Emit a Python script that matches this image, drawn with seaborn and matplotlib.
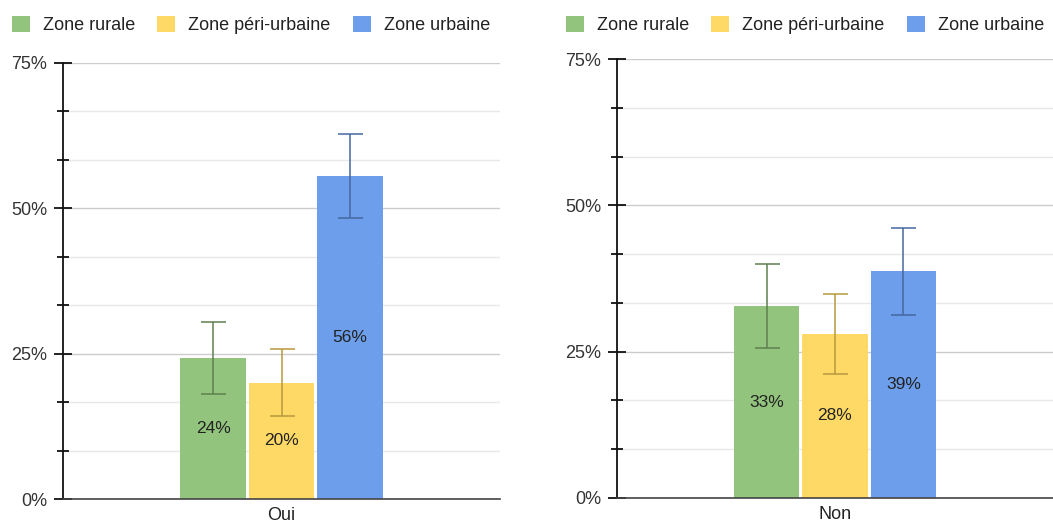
import pandas as pd
import seaborn as sns
from matplotlib import pyplot as plt
from matplotlib.patches import Patch
from matplotlib.ticker import MultipleLocator, FixedLocator

zones = ['Zone rurale', 'Zone péri-urbaine', 'Zone urbaine']
answers = ['Oui', 'Non']

oui_values = [24.2, 20.0, 55.6]
oui_low = [18.1, 14.2, 48.4]
oui_high = [30.5, 25.8, 62.8]

non_values = [32.8, 28.1, 38.8]
non_low = [25.7, 21.2, 31.3]
non_high = [39.9, 34.9, 46.1]

colors = ['#93c47d', '#ffd966', '#6d9eeb']
err_colors = ['#5f7f4f', '#b8983f', '#45689f']

sns.set_style("white")
plt.rcParams['font.family'] = ['Liberation Sans', 'DejaVu Sans']

fig = plt.figure(figsize=(10.53, 5.24), dpi=100)
ax1 = fig.add_axes([63 / 1053, 25 / 524, 437 / 1053, 436 / 524])
ax2 = fig.add_axes([617 / 1053, 26 / 524, 436 / 1053, 439 / 524])

panels = [
    (ax1, 'Oui', oui_values, oui_low, oui_high, 12),
    (ax2, 'Non', non_values, non_low, non_high, 566),
]

for ax, answer, vals, lows, highs, leg_x in panels:
    df = pd.DataFrame({'answer': [answer] * 3, 'zone': zones, 'value': vals})
    sns.barplot(data=df, x='answer', y='value', hue='zone', hue_order=zones,
                palette=colors, saturation=1, width=0.47, gap=0.04,
                linewidth=0, legend=False, errorbar=None, ax=ax)

    for cont, v, lo, hi, ec in zip(ax.containers, vals, lows, highs, err_colors):
        bar = cont.patches[0]
        xc = bar.get_x() + bar.get_width() / 2
        ax.errorbar([xc], [v], yerr=[[v - lo], [hi - v]], fmt='none',
                    ecolor=ec, elinewidth=1.1, capsize=9, capthick=1.1, zorder=4)
        ax.bar_label(cont, labels=[f'{v:.0f}%'], label_type='center',
                     fontsize=12.5, color='#222222')

    ax.set_xlim(-0.5, 0.5)
    ax.set_ylim(0, 75)
    ax.yaxis.set_major_locator(MultipleLocator(25))
    ax.yaxis.set_minor_locator(FixedLocator([25 / 3 * i for i in range(10) if i % 3]))
    ax.set_yticklabels([f'{t:.0f}%' for t in ax.get_yticks()])
    ax.grid(which='major', axis='y', color='#cccccc', linewidth=1)
    ax.grid(which='minor', axis='y', color='#e8e8e8', linewidth=1)
    ax.set_axisbelow(True)

    ax.tick_params(axis='y', which='both', left=True)
    ax.tick_params(axis='y', which='major', direction='inout', length=13,
                   width=1.3, labelsize=13, pad=5, colors='#111111')
    ax.tick_params(axis='y', which='minor', direction='inout', length=9, width=1.3,
                   colors='#111111')
    ax.tick_params(axis='y', labelcolor='#333333')
    ax.tick_params(axis='x', length=0, labelsize=13, pad=5.5, labelcolor='#222222')

    ax.set_xlabel('')
    ax.set_ylabel('')
    for s in ['top', 'right']:
        ax.spines[s].set_visible(False)
    ax.spines['left'].set_color('#111111')
    ax.spines['left'].set_linewidth(1.3)
    ax.spines['bottom'].set_color('#444444')
    ax.spines['bottom'].set_linewidth(1.2)

    handles = [Patch(facecolor=c, edgecolor='none') for c in colors]
    fig.legend(handles, zones, loc='center left', ncol=3, frameon=False,
               bbox_to_anchor=(leg_x / 1053, 1 - 25 / 524), fontsize=13,
               handlelength=1.0, handleheight=1.0, handletextpad=0.72,
               columnspacing=1.22, borderaxespad=0, borderpad=0,
               labelcolor='#222222')

plt.savefig('out.png', dpi=100)
